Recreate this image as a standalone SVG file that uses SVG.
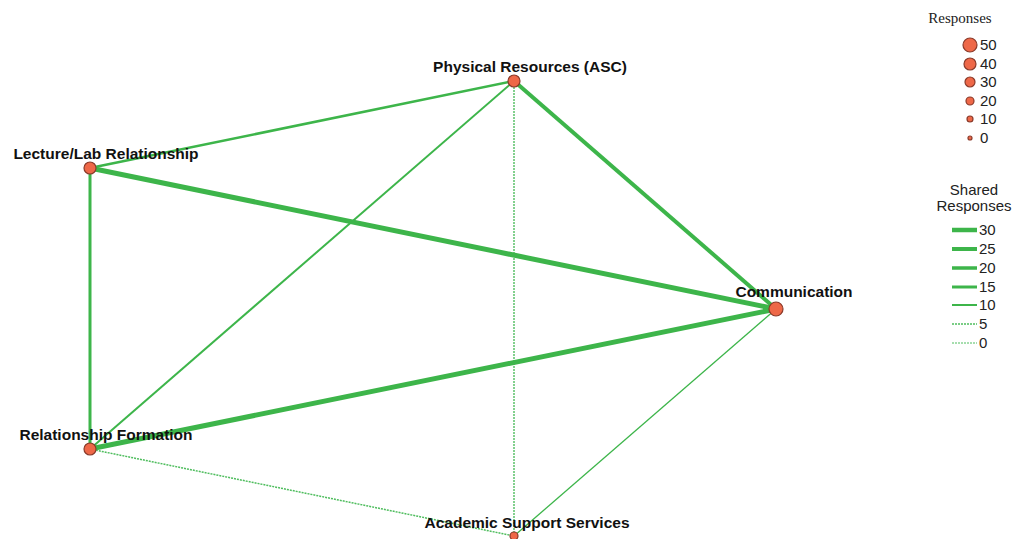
<svg xmlns="http://www.w3.org/2000/svg" width="1019" height="539" viewBox="0 0 1019 539">
<style>
.e{stroke:#3db54a;fill:none;stroke-linecap:butt}
.d{stroke:#4fbd5e;stroke-dasharray:2,1}
.n{fill:#ee6848;stroke:#8a3a2a;stroke-width:1.2}
.lbl{font-family:"Liberation Sans",Arial,sans-serif;font-weight:bold;font-size:15.5px;fill:#111}
.lg{font-family:"Liberation Sans",Arial,sans-serif;font-size:15px;fill:#222}
.lt{font-family:"Liberation Serif","Times New Roman",serif;font-size:15px;fill:#222}
</style>
<rect width="1019" height="539" fill="#ffffff"/>
<g id="connectors">
<line class="e" x1="514" y1="81" x2="90" y2="168" stroke-width="2.5"/>
<line class="e" x1="514" y1="81" x2="90" y2="449" stroke-width="2"/>
<line class="e" x1="514" y1="81" x2="776" y2="309" stroke-width="4"/>
<line class="e d" x1="514" y1="81" x2="514" y2="536" stroke-width="1.4"/>
<line class="e" x1="90" y1="168" x2="776" y2="309" stroke-width="5"/>
<line class="e" x1="90" y1="168" x2="90" y2="449" stroke-width="3"/>
<line class="e" x1="90" y1="449" x2="776" y2="309" stroke-width="5"/>
<line class="e d" x1="90" y1="449" x2="514" y2="536" stroke-width="1.5"/>
<line class="e" x1="776" y1="309" x2="514" y2="536" stroke-width="1.3" stroke="#5cc26a"/>
</g>
<g id="node-physical">
<circle class="n" cx="514" cy="81" r="6"/>
<text class="lbl" x="530" y="72" text-anchor="middle">Physical Resources (ASC)</text>
</g>
<g id="node-lecture">
<circle class="n" cx="90" cy="168" r="6"/>
<text class="lbl" x="106" y="159" text-anchor="middle">Lecture/Lab Relationship</text>
</g>
<g id="node-relationship">
<circle class="n" cx="90" cy="449" r="6"/>
<text class="lbl" x="106" y="440" text-anchor="middle">Relationship Formation</text>
</g>
<g id="node-communication">
<circle class="n" cx="776" cy="309" r="7"/>
<text class="lbl" x="794" y="297" text-anchor="middle">Communication</text>
</g>
<g id="node-academic">
<circle class="n" cx="514" cy="536" r="4"/>
<text class="lbl" x="527" y="528" text-anchor="middle">Academic Support Services</text>
</g>
<g id="legend-responses">
<text class="lt" x="960" y="23" text-anchor="middle">Responses</text>
<circle class="n" cx="970" cy="45" r="7"/>
<circle class="n" cx="970" cy="64" r="6"/>
<circle class="n" cx="970" cy="82" r="5"/>
<circle class="n" cx="970" cy="101" r="4"/>
<circle class="n" cx="970" cy="119" r="3"/>
<circle class="n" cx="970" cy="138" r="2"/>
<text class="lg" x="980" y="50">50</text>
<text class="lg" x="980" y="69">40</text>
<text class="lg" x="980" y="87">30</text>
<text class="lg" x="980" y="106">20</text>
<text class="lg" x="980" y="124">10</text>
<text class="lg" x="980" y="143">0</text>
</g>
<g id="legend-shared">
<text class="lg" x="974" y="195" text-anchor="middle" font-size="16px">Shared</text>
<text class="lg" x="974" y="211" text-anchor="middle" font-size="16px">Responses</text>
<line class="e" x1="952" y1="230" x2="977" y2="230" stroke-width="4.5"/>
<line class="e" x1="952" y1="249" x2="977" y2="249" stroke-width="4"/>
<line class="e" x1="952" y1="268" x2="977" y2="268" stroke-width="3.5"/>
<line class="e" x1="952" y1="287" x2="977" y2="287" stroke-width="3"/>
<line class="e" x1="952" y1="305" x2="977" y2="305" stroke-width="2"/>
<line class="e d" x1="952" y1="324" x2="977" y2="324" stroke-width="1.5"/>
<line class="e d" x1="952" y1="343" x2="977" y2="343" stroke-width="1"/>
<text class="lg" x="979" y="235">30</text>
<text class="lg" x="979" y="254">25</text>
<text class="lg" x="979" y="273">20</text>
<text class="lg" x="979" y="292">15</text>
<text class="lg" x="979" y="310">10</text>
<text class="lg" x="979" y="329">5</text>
<text class="lg" x="979" y="348">0</text>
</g>
</svg>
